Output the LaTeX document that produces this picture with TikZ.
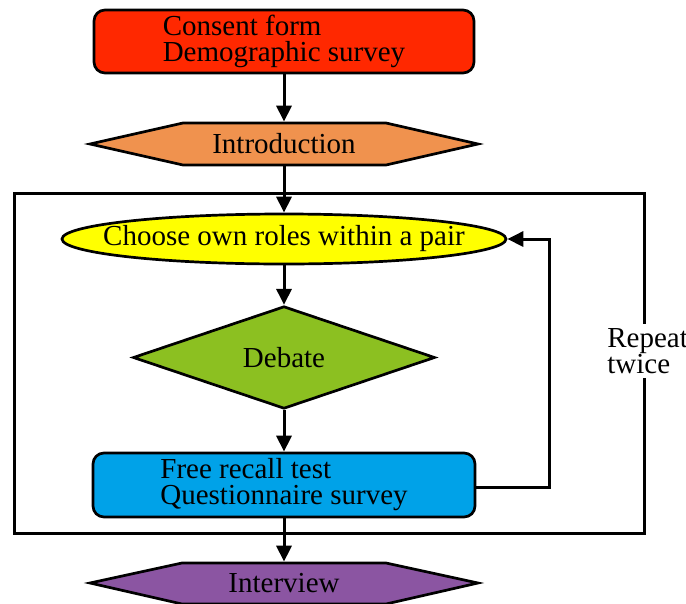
\documentclass[tikz,border=0pt]{standalone}
\usepackage{fontspec}
\setmainfont{Liberation Serif}
\usetikzlibrary{shapes.geometric,arrows.meta}
\definecolor{cred}{HTML}{FF2800}
\definecolor{corange}{HTML}{F0924E}
\definecolor{cyellow}{HTML}{FFFF00}
\definecolor{cgreen}{HTML}{8CC021}
\definecolor{cblue}{HTML}{00A2E8}
\definecolor{cpurple}{HTML}{8B55A2}
\begin{document}
\begin{tikzpicture}[x=1pt,y=-1pt,
  font=\fontsize{29}{26}\selectfont,
  line width=2.7pt,
  box/.style={draw, rectangle, rounded corners=11pt, align=left, inner sep=0pt},
  hexlabel/.style={inner sep=0pt, minimum width=200pt},
  conn/.style={-{Triangle[length=16pt,width=15pt]}, line width=3pt},
]
\useasboundingbox (0,0) rectangle (686,603);

% frame
\node[draw, minimum width=630pt, minimum height=340pt, inner sep=0pt, line width=3pt] (frame) at (329,363) {};
\node[fill=white, align=left, anchor=west, inner xsep=0pt, inner ysep=4pt] (repeat) at (606,351) {Repeat\\twice};

% top box
\node[box, fill=cred, minimum width=380pt, minimum height=63pt] (consent) at (284,41.5) {Consent form\\Demographic survey};

% intro hexagon
\draw[fill=corange] (90,144) -- (183,123) -- (386,123) -- (478,144) -- (386,165) -- (183,165) -- cycle;
\node[hexlabel, minimum height=42pt] (intro) at (284,144) {Introduction};

% ellipse
\node[draw, ellipse, fill=cyellow, minimum width=444pt, minimum height=50pt, inner sep=0pt] (choose) at (284,239) {\makebox[0pt]{Choose own roles within a pair}};

% diamond
\node[draw, diamond, fill=cgreen, minimum width=302pt, minimum height=95pt, inner sep=0pt] (debate) at (284,357.5) {Debate};

% blue box
\node[box, fill=cblue, minimum width=382pt, minimum height=64pt] (recall) at (284,485) {Free recall test\\Questionnaire survey};

% interview hexagon
\draw[fill=cpurple] (90,583) -- (182,563) -- (386,563) -- (478,583) -- (386,604) -- (182,604) -- cycle;
\node[hexlabel, minimum height=40pt] (interview) at (284,583) {Interview};

% connectors
\draw[conn] (consent.south) -- (intro.north);
\draw[conn] (intro.south) -- (choose.north);
\draw[conn] (choose.south) -- (debate.north);
\draw[conn] (debate.south) -- (recall.north);
\draw[conn] (recall.south) -- (interview.north);
\coordinate (loop) at (549,487);
\draw[conn] (recall.east |- loop) -- (loop) |- (choose.east);
\end{tikzpicture}
\end{document}
